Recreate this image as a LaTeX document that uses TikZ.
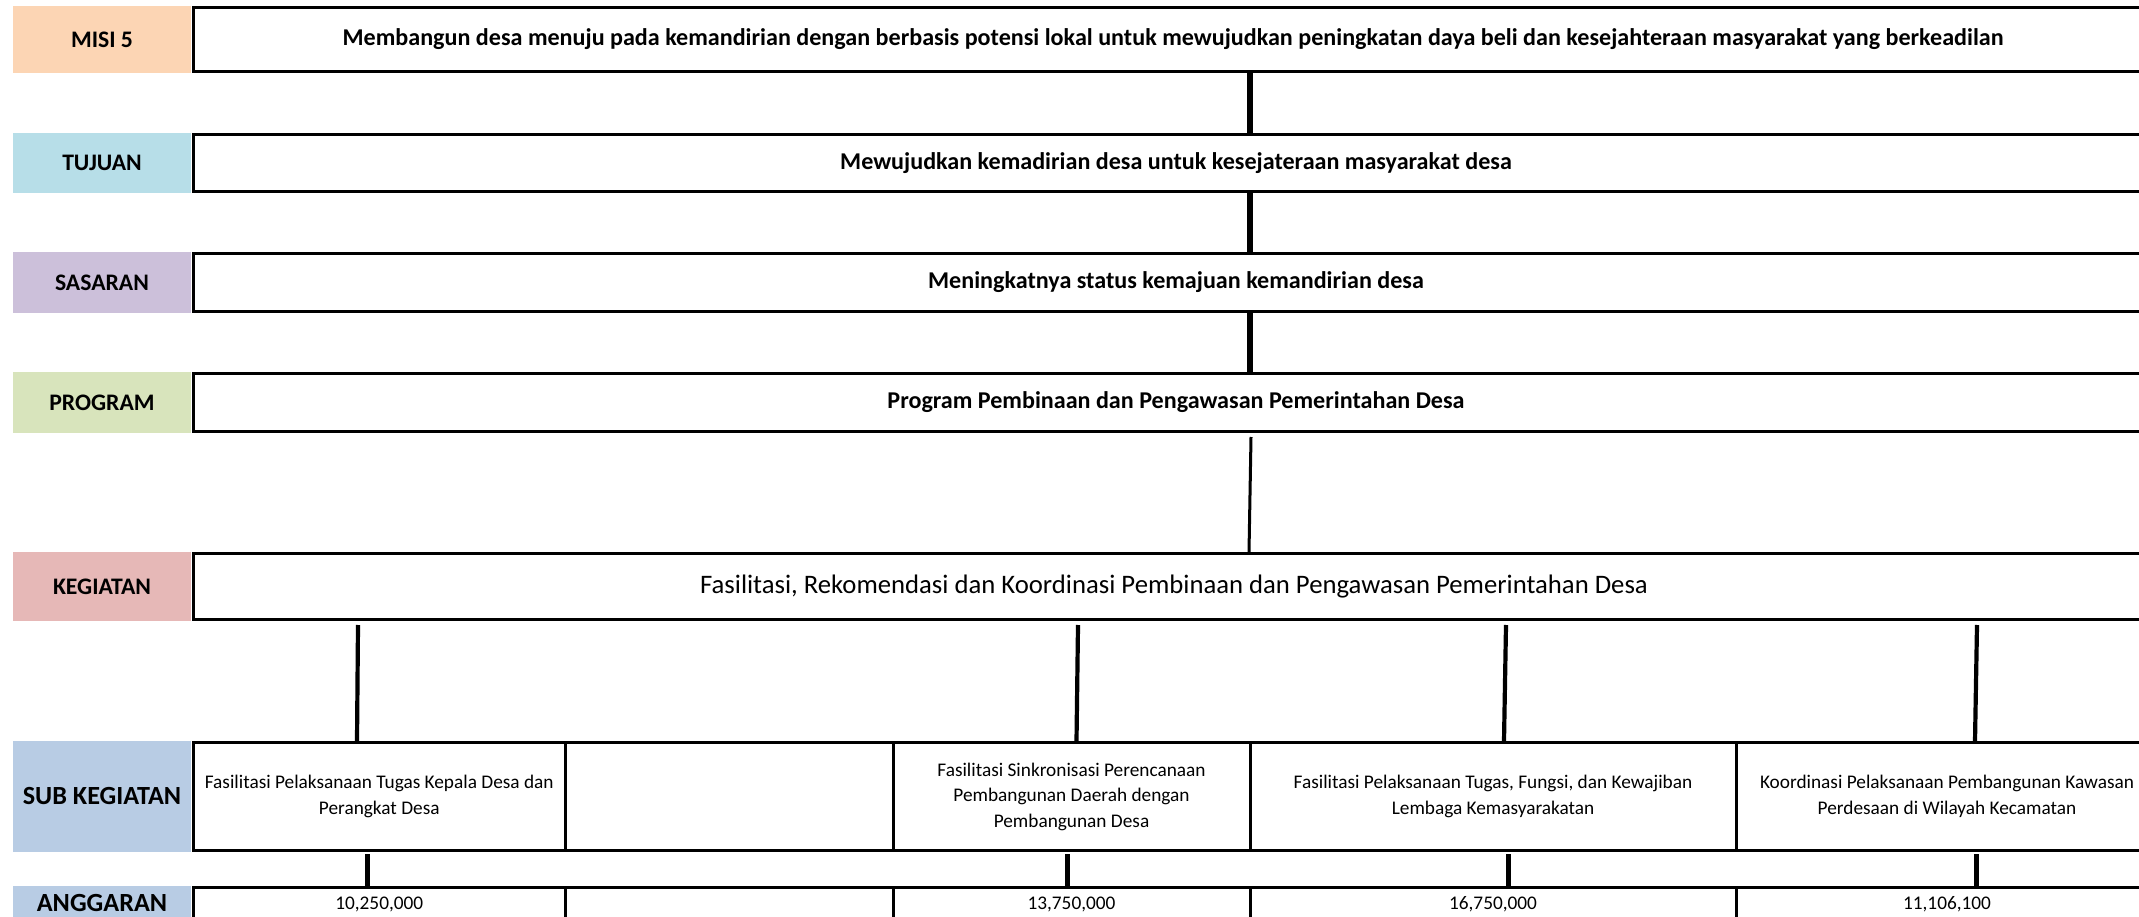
\documentclass[tikz,border=0pt]{standalone}
\usepackage{fontspec}
\setmainfont{Carlito}
\definecolor{cmisi}{HTML}{FCD5B4}
\definecolor{ctuj}{HTML}{B7DEE8}
\definecolor{csas}{HTML}{CCC0DA}
\definecolor{cprog}{HTML}{D8E4BC}
\definecolor{ckeg}{HTML}{E6B8B7}
\definecolor{csub}{HTML}{B8CCE4}
\begin{document}
\begin{tikzpicture}[x=1pt,y=-1pt,
  labbox/.style={draw=none, inner sep=0pt, outer sep=0pt, minimum width=178pt,
    font=\fontsize{23.7}{28}\selectfont\bfseries},
  biglab/.style={labbox, font=\fontsize{26.2}{30}\selectfont\bfseries},
  mainbox/.style={draw=black, line width=3pt, fill=white, inner sep=0pt,
    minimum width=1965pt},
  boldtxt/.style={font=\fontsize{24.1}{28}\selectfont\bfseries},
  cell/.style={draw=black, line width=3pt, fill=white, inner sep=0pt, align=center,
    font=\fontsize{19.3}{25.5}\selectfont},
  conn/.style={draw=black, line width=6pt},
  midconn/.style={draw=black, line width=4.2pt},
  shortconn/.style={draw=black, line width=5pt},
  thinconn/.style={draw=black, line width=3pt}]
\useasboundingbox (0,0) rectangle (2139,917);
\clip (0,0) rectangle (2139,917);
\fill[white] (0,0) rectangle (2139,917);

% labels
\node[labbox, fill=cmisi, minimum height=67pt] (l1) at (102,39.5) {MISI 5};
\node[labbox, fill=ctuj, minimum height=60pt] (l2) at (102,163) {TUJUAN};
\node[labbox, fill=csas, minimum height=61pt] (l3) at (102,282.5) {SASARAN};
\node[labbox, fill=cprog, minimum height=61pt] (l4) at (102,402.5) {PROGRAM};
\node[labbox, fill=ckeg, minimum height=69pt] (l5) at (102,586.5) {KEGIATAN};
\node[biglab, fill=csub, minimum height=111pt] (l6) at (102,796.5) {SUB KEGIATAN};
\node[biglab, fill=csub, minimum height=34pt] (l7) at (102,903) {ANGGARAN};

% main boxes
\node[mainbox, boldtxt, minimum width=1959pt, minimum height=64pt] (m1) at (1173,39.5)
  {Membangun desa menuju pada kemandirian dengan berbasis potensi lokal untuk mewujudkan peningkatan daya beli dan kesejahteraan masyarakat yang berkeadilan};
\node[mainbox, boldtxt, minimum height=57pt] (m2) at (1176,163)
  {Mewujudkan kemadirian desa untuk kesejateraan masyarakat desa};
\node[mainbox, boldtxt, minimum height=58pt] (m3) at (1176,282.5)
  {Meningkatnya status kemajuan kemandirian desa};
\node[mainbox, boldtxt, minimum height=58pt] (m4) at (1176,402.5)
  {Program Pembinaan dan Pengawasan Pemerintahan Desa};
\node[mainbox, font=\fontsize{26.7}{32}\selectfont, minimum width=1961pt, minimum height=66pt] (m5) at (1174,586.5)
  {Fasilitasi, Rekomendasi dan Koordinasi Pembinaan dan Pengawasan Pemerintahan Desa};

% sub kegiatan cells
\node[cell, minimum width=371.5pt, minimum height=108pt] (s1) at (379.25,796.5)
  {Fasilitasi Pelaksanaan Tugas Kepala Desa dan\\Perangkat Desa};
\node[cell, minimum width=328pt, minimum height=108pt] (s2) at (729,796.5) {};
\node[cell, minimum width=357pt, minimum height=108pt] (s3) at (1071.5,796.5)
  {Fasilitasi Sinkronisasi Perencanaan\\Pembangunan Daerah dengan\\Pembangunan Desa};
\node[cell, minimum width=486pt, minimum height=108pt] (s4) at (1493,796.5)
  {Fasilitasi Pelaksanaan Tugas, Fungsi, dan Kewajiban\\Lembaga Kemasyarakatan};
\node[cell, minimum width=422pt, minimum height=108pt] (s5) at (1947,796.5)
  {Koordinasi Pelaksanaan Pembangunan Kawasan\\Perdesaan di Wilayah Kecamatan};

% anggaran cells
\node[cell, minimum width=371.5pt, minimum height=34pt] (a1) at (379.25,904) {10,250,000};
\node[cell, minimum width=328pt, minimum height=34pt] (a2) at (729,904) {};
\node[cell, minimum width=357pt, minimum height=34pt] (a3) at (1071.5,904) {13,750,000};
\node[cell, minimum width=486pt, minimum height=34pt] (a4) at (1493,904) {16,750,000};
\node[cell, minimum width=422pt, minimum height=34pt] (a5) at (1947,904) {11,106,100};

% connector x positions
\coordinate (ct) at (1250,0);
\coordinate (pt) at (1251,0);
\coordinate (pb) at (1249,0);
\coordinate (k1t) at (358,0);   \coordinate (k1b) at (357,0);
\coordinate (k2t) at (1078,0);  \coordinate (k2b) at (1076.5,0);
\coordinate (k3t) at (1506,0);  \coordinate (k3b) at (1504,0);
\coordinate (k4t) at (1977,0);  \coordinate (k4b) at (1975,0);
\coordinate (b1) at (367,0);
\coordinate (b2) at (1067,0);
\coordinate (b3) at (1508,0);
\coordinate (b4) at (1976,0);

\draw[conn] (m1.south -| ct) -- (m2.north -| ct);
\draw[conn] (m2.south -| ct) -- (m3.north -| ct);
\draw[conn] (m3.south -| ct) -- (m4.north -| ct);

\draw[thinconn] ([yshift=-4pt]m4.south -| pt) -- (m5.north -| pb);

\draw[midconn] ([yshift=-4pt]m5.south -| k1t) -- (s1.north -| k1b);
\draw[midconn] ([yshift=-4pt]m5.south -| k2t) -- (s3.north -| k2b);
\draw[midconn] ([yshift=-4pt]m5.south -| k3t) -- (s4.north -| k3b);
\draw[midconn] ([yshift=-4pt]m5.south -| k4t) -- (s5.north -| k4b);

\draw[shortconn] ([yshift=-2pt]s1.south -| b1) -- (a1.north -| b1);
\draw[shortconn] ([yshift=-2pt]s3.south -| b2) -- (a3.north -| b2);
\draw[shortconn] ([yshift=-2pt]s4.south -| b3) -- (a4.north -| b3);
\draw[shortconn] ([yshift=-2pt]s5.south -| b4) -- (a5.north -| b4);
\end{tikzpicture}
\end{document}
